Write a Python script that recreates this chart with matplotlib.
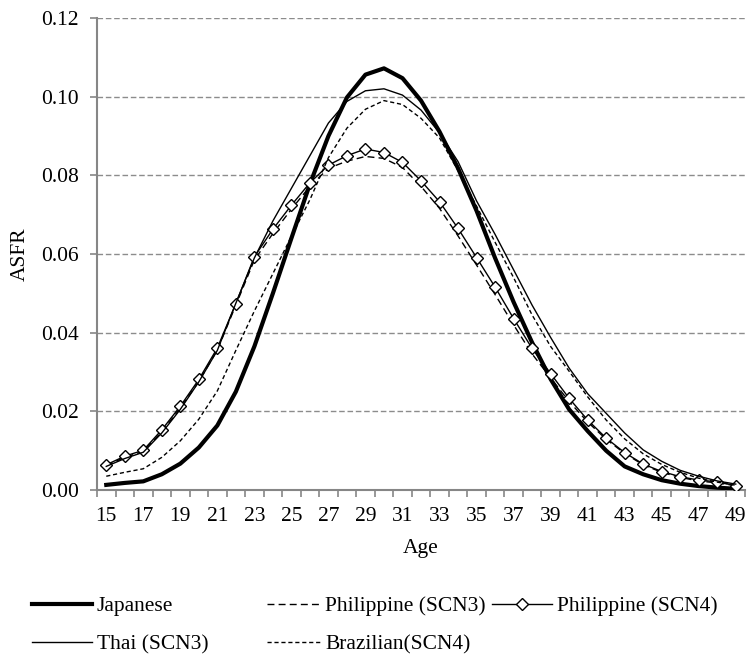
import numpy as np
import matplotlib.pyplot as plt
from matplotlib.ticker import FixedLocator, FormatStrFormatter

plt.rcParams['font.family'] = ['Liberation Serif', 'DejaVu Serif']

# Datos (ASFR por edad)
ages = np.arange(15, 50)
japanese = [0.0013, 0.0018, 0.0022, 0.0040, 0.0067, 0.0108, 0.0164, 0.0250, 0.0365,
            0.0500, 0.0640, 0.0778, 0.0900, 0.0998, 0.1056, 0.1072, 0.1047, 0.0990,
            0.0911, 0.0818, 0.0710, 0.0590, 0.0478, 0.0375, 0.0282, 0.0205, 0.0150,
            0.0100, 0.0060, 0.0040, 0.0025, 0.0016, 0.0010, 0.0006, 0.0003]
phil_scn3 = [0.0062, 0.0083, 0.0098, 0.0148, 0.0208, 0.0276, 0.0356, 0.0470, 0.0585,
             0.0652, 0.0714, 0.0772, 0.0818, 0.0836, 0.0848, 0.0843, 0.0820, 0.0772,
             0.0716, 0.0646, 0.0572, 0.0497, 0.0420, 0.0346, 0.0285, 0.0225, 0.0173,
             0.0129, 0.0093, 0.0064, 0.0045, 0.0032, 0.0023, 0.0018, 0.0011]
phil_scn4 = [0.0064, 0.0086, 0.0101, 0.0153, 0.0213, 0.0281, 0.0361, 0.0474, 0.0593,
             0.0663, 0.0724, 0.0781, 0.0826, 0.0850, 0.0867, 0.0858, 0.0833, 0.0786,
             0.0733, 0.0665, 0.0591, 0.0516, 0.0436, 0.0360, 0.0296, 0.0233, 0.0178,
             0.0132, 0.0095, 0.0066, 0.0047, 0.0034, 0.0025, 0.0021, 0.0011]
thai_scn3 = [0.0060, 0.0080, 0.0096, 0.0145, 0.0205, 0.0275, 0.0355, 0.0475, 0.0590,
             0.0684, 0.0767, 0.0850, 0.0933, 0.0988, 0.1015, 0.1020, 0.1004, 0.0966,
             0.0908, 0.0835, 0.0735, 0.0650, 0.0560, 0.0470, 0.0388, 0.0310, 0.0245,
             0.0195, 0.0145, 0.0102, 0.0073, 0.0050, 0.0035, 0.0023, 0.0015]
braz_scn4 = [0.0035, 0.0045, 0.0054, 0.0083, 0.0125, 0.0180, 0.0252, 0.0355, 0.0455,
             0.0550, 0.0645, 0.0738, 0.0845, 0.0920, 0.0968, 0.0990, 0.0980, 0.0945,
             0.0895, 0.0812, 0.0722, 0.0630, 0.0540, 0.0445, 0.0365, 0.0302, 0.0237,
             0.0178, 0.0130, 0.0092, 0.0065, 0.0045, 0.0030, 0.0020, 0.0012]

fs = 15.5
gray = '#868686'

fig = plt.figure(figsize=(7.47, 6.55), dpi=100)
ax = fig.add_axes([97/747, 1-490/655, 648/747, 472/655])

# Series
l_jap, = ax.plot(ages, japanese, color='black', lw=3.0, solid_joinstyle='round', zorder=3)
l_p3, = ax.plot(ages, phil_scn3, color='black', lw=1.0, linestyle=(0, (5, 3)), zorder=3)
l_p4, = ax.plot(ages, phil_scn4, color='black', lw=1.0, marker='D', markersize=6,
                markerfacecolor='white', markeredgecolor='black', markeredgewidth=1.0, zorder=4)
l_thai, = ax.plot(ages, thai_scn3, color='black', lw=1.0, zorder=5)
l_braz, = ax.plot(ages, braz_scn4, color='black', lw=1.0, linestyle=(0, (3, 2)), zorder=5)

# Ejes
ax.set_xlim(14.5, 49.5)
ax.set_ylim(0, 0.12)
ax.set_yticks(np.arange(0, 0.121, 0.02))
ax.yaxis.set_major_formatter(FormatStrFormatter('%.2f'))
ax.set_xticks(ages[::2])
ax.xaxis.set_minor_locator(FixedLocator(np.arange(14.5, 50, 1)))
ax.tick_params(axis='x', which='major', length=0, pad=12, labelsize=fs)
ax.tick_params(axis='x', which='minor', length=5, width=1.2, color=gray, direction='out')
ax.tick_params(axis='y', which='major', length=5, width=1.2, color=gray, pad=8, labelsize=fs)

ax.grid(axis='y', color='#8c8c8c', linestyle=(0, (4, 2)), lw=1.0)
ax.set_axisbelow(True)
for s in ['top', 'right']:
    ax.spines[s].set_visible(False)
for s in ['left', 'bottom']:
    ax.spines[s].set_color(gray)
    ax.spines[s].set_linewidth(1.5)

fig.text(20/747, 1-254/655, 'ASFR', rotation=90, ha='center', va='center', fontsize=fs)
fig.text(421/747, 1-553/655, 'Age', ha='center', va='baseline', fontsize=fs)

# Leyenda en tres columnas
leg_kw = dict(loc='upper left', frameon=False, fontsize=fs, handletextpad=0.2,
              labelspacing=0.85, borderpad=0, borderaxespad=0, numpoints=1)
top = 1 - 596/655
fig.legend([l_jap, l_thai], ['Japanese', 'Thai (SCN3)'], handlelength=2.8,
           bbox_to_anchor=(32/747, top), **leg_kw)
fig.legend([l_p3, l_braz], ['Philippine (SCN3)', 'Brazilian(SCN4)'], handlelength=2.5,
           bbox_to_anchor=(267/747, top), **leg_kw)
fig.legend([l_p4], ['Philippine (SCN4)'], handlelength=2.8,
           bbox_to_anchor=(492/747, top), **leg_kw)

fig.savefig('out.png', dpi=100)
